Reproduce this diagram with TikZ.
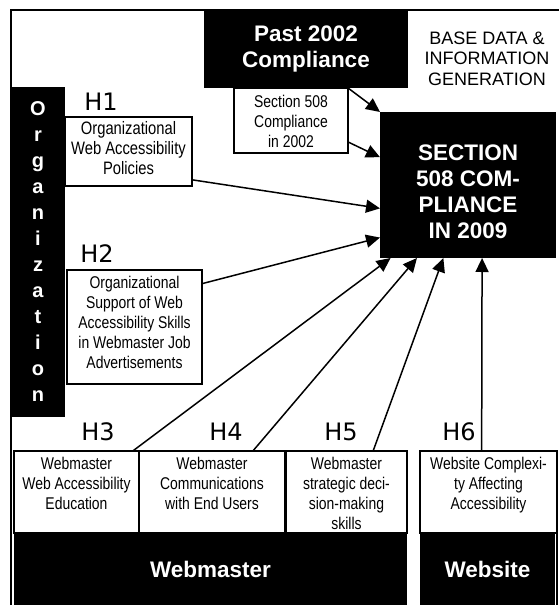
\documentclass[tikz,border=0pt]{standalone}
\usepackage{fontspec}
\setmainfont{Liberation Sans}
\newfontfamily\narrowfont[FakeStretch=0.82]{Liberation Sans}
\newfontfamily\hfont{DejaVu Sans}
\usetikzlibrary{arrows.meta,calc}
\newcommand{\tbx}[4]{\parbox[c][#2][t]{#1}{\centering\vspace*{#3}\strut #4}}
\tikzset{
  blk/.style={fill=black, text=white, inner sep=0pt, outer sep=0pt, align=center,
    font=\bfseries\fontsize{22.5}{26}\selectfont},
  wbox/.style={draw=black, fill=white, line width=1.5pt, inner sep=0pt, outer sep=0pt,
    font=\narrowfont\fontsize{17}{20}\selectfont},
  hlab/.style={inner sep=0pt, font=\hfont\fontsize{24}{28}\selectfont},
  arr/.style={line width=1.5pt, -{Triangle[length=14pt,width=13pt]}},
}
\begin{document}
\begin{tikzpicture}[x=1pt,y=-1pt]
\useasboundingbox (0,0) rectangle (559,605);
% outer frame
\draw[line width=1.5pt] (11,605) -- (11,10) -- (559,10);
% black blocks
\node[blk, minimum width=204pt, minimum height=79pt] (past) at (306,48.5) {Past 2002\\Compliance};
\node[blk, font=\bfseries\fontsize{20}{26}\selectfont, minimum width=54pt, minimum height=330pt] (org) at (38,252)
  {O\\r\\g\\a\\n\\i\\z\\a\\t\\i\\o\\n};
\node[blk, minimum width=393pt, minimum height=72pt] (webm) at (210.5,569) {Webmaster};
\node[blk, minimum width=135pt, minimum height=72pt] (webs) at (487.5,569) {Website};
\draw[line width=1.2pt] (557,533) -- (557,605);
\node[blk] (main) at (468,185) {\tbx{176pt}{146pt}{30pt}{SECTION\\508 COM-\\PLIANCE\\IN 2009}};
% base data text
\node[align=center, inner sep=0pt, font=\fontsize{18}{20.5}\selectfont] (base) at (487,58.5)
  {BASE DATA \&\\INFORMATION\\GENERATION};
% white boxes
\node[wbox] (s2002) at (291,120.5) {\tbx{114pt}{65pt}{5pt}{Section 508\\Compliance\\in 2002}};
\node[wbox, font=\narrowfont\fontsize{18}{20}\selectfont] (h1box) at (128.5,151.5)
  {\tbx{127pt}{69pt}{3.4pt}{Organizational\\Web Accessibility\\Policies}};
\node[wbox] (h2box) at (134.5,327)
  {\tbx{135pt}{114pt}{4pt}{Organizational\\Support of Web\\Accessibility Skills\\in Webmaster Job\\Advertisements}};
\node[wbox] (b3) at (76.5,492) {\tbx{125pt}{82pt}{4pt}{Webmaster\\Web Accessibility\\Education}};
\node[wbox] (b4) at (212,492) {\tbx{146pt}{82pt}{4pt}{Webmaster\\Communications\\with End Users}};
\node[wbox] (b5) at (346.5,492) {\tbx{121pt}{82pt}{4pt}{Webmaster\\strategic deci-\\sion-making\\skills}};
\node[wbox] (b6) at (488.5,492) {\tbx{137pt}{82pt}{4pt}{Website Complexi-\\ty Affecting\\Accessibility}};
% hypothesis labels
\node[hlab] (lh1) at (101,102) {H1};
\node[hlab] (lh2) at (97,254) {H2};
\node[hlab] (lh3) at (98,432) {H3};
\node[hlab] (lh4) at (226,432) {H4};
\node[hlab] (lh5) at (341,432) {H5};
\node[hlab] (lh6) at (459,432) {H6};
% arrows
\draw[arr] (s2002.north east) -- (main.north west);
\draw[arr] ($(s2002.north east)!0.83!(s2002.south east)$) -- ($(main.north west)!0.31!(main.south west)$);
\draw[arr] ($(h1box.north east)!0.91!(h1box.south east)$) -- ($(main.north west)!0.66!(main.south west)$);
\draw[arr] ($(h2box.north east)!0.12!(h2box.south east)$) -- ($(main.north west)!0.86!(main.south west)$);
\draw[arr] ($(b3.north west)!0.95!(b3.north east)$) -- ($(main.south west)!0.06!(main.south east)$);
\draw[arr] ($(b4.north west)!0.78!(b4.north east)$) -- ($(main.south west)!0.21!(main.south east)$);
\draw[arr] ($(b5.north west)!0.72!(b5.north east)$) -- ($(main.south west)!0.36!(main.south east)$);
\draw[arr] ($(b6.north west)!0.45!(b6.north east)$) -- ($(main.south west)!0.58!(main.south east)$);
\end{tikzpicture}
\end{document}
